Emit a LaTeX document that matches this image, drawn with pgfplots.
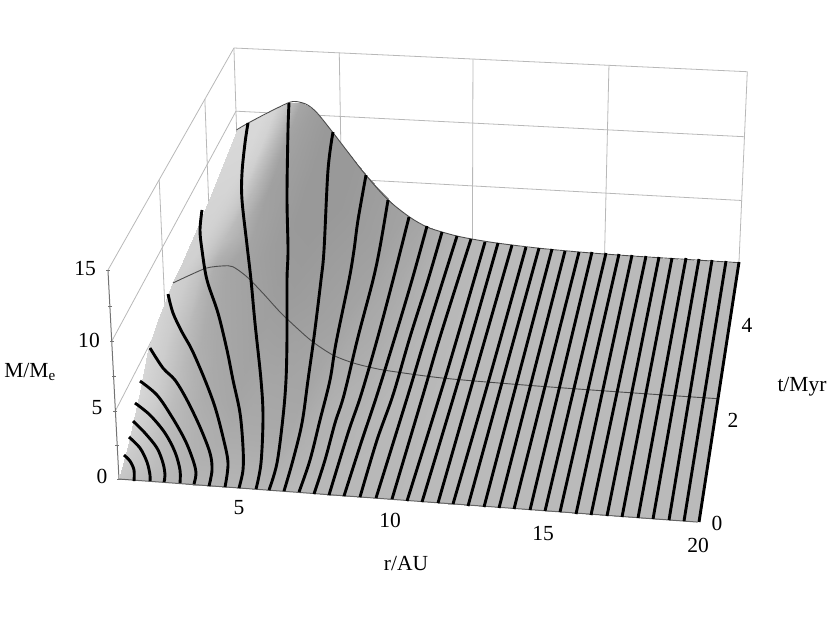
\documentclass[border=0pt]{standalone}
\usepackage{fontspec}
\setmainfont{Liberation Serif}
\usepackage{pgfplots}
\usepackage{pgfplotstable}
\pgfplotsset{compat=1.18}
% camera: (r,t,M) -> image plane
\newcommand\Wd{(1-0.036*(\thisrow{r}-1)/19+0.1614*\thisrow{t}/5.4-0.032*\thisrow{M}/15)}
\pgfplotsset{table/proj/.style={x expr={(119+552.9*(\thisrow{r}-1)/19+159.7*\thisrow{t}/5.4-14.5*\thisrow{M}/15)/\Wd},
 y expr={(479+24.2*(\thisrow{r}-1)/19-207.2*\thisrow{t}/5.4-217.6*\thisrow{M}/15)/\Wd}, z expr=0, row sep=\\},
 wall/.style={line width=0.8pt,color=black!28,no marks},
 track/.style={line width=2.9pt,black,no marks},
 tracks/.style={line width=2.9pt,black,no marks,smooth,tension=0.55}}
\pgfplotstableread[row sep=\\]{
r t M g\\
1 5.4 8.5 .85\\ 1 4.5 7.6 .84\\ 1 3.68 6.9 .83\\ 1 2.8 6.4 .82\\ 1 2.36 6.2 .82\\ 1 1.7 5.6 .83\\ 1 1.28 4.84 .84\\ 1 .9 3.1 .84\\ 1 .46 1.33 .82\\ 1 .25 .65 .80\\ 1 0 0 .78\\
1.5 5.4 9.15 .85\\ 1.5 4.5 8.3 .84\\ 1.5 3.68 7.6 .83\\ 1.5 2.8 7 .82\\ 1.5 2.36 6.7 .80\\ 1.5 1.7 5.6 .80\\ 1.5 1.28 4.1 .80\\ 1.5 .9 2.4 .80\\ 1.5 .46 .9 .78\\ 1.5 .25 .4 .77\\ 1.5 0 0 .75\\
2 5.4 9.75 .85\\ 2 4.5 8.9 .84\\ 2 3.68 8.2 .82\\ 2 2.8 7.6 .79\\ 2 2.36 7.2 .76\\ 2 1.7 5 .74\\ 2 1.28 3.2 .74\\ 2 .9 1.7 .74\\ 2 .46 .55 .74\\ 2 .25 .25 .74\\ 2 0 0 .73\\
2.5 5.4 10.3 .83\\ 2.5 4.5 9.5 .82\\ 2.5 3.68 8.8 .79\\ 2.5 2.8 8.1 .74\\ 2.5 2.36 7.55 .68\\ 2.5 1.7 4 .68\\ 2.5 1.28 2.2 .70\\ 2.5 .9 1.1 .71\\ 2.5 .46 .35 .72\\ 2.5 .25 .15 .72\\ 2.5 0 0 .72\\
3 5.4 10.85 .76\\ 3 4.5 10.1 .74\\ 3 3.68 9.4 .72\\ 3 2.8 8.5 .70\\ 3 2.36 7.72 .65\\ 3 1.7 3.6 .66\\ 3 1.28 1.9 .67\\ 3 .9 .9 .69\\ 3 .46 .25 .70\\ 3 .25 .1 .71\\ 3 0 0 .72\\
3.5 5.4 10.95 .65\\ 3.5 4.5 10.2 .64\\ 3.5 3.68 9.4 .63\\ 3.5 2.8 8.2 .64\\ 3.5 2.36 7.25 .64\\ 3.5 1.7 3 .65\\ 3.5 1.28 1.3 .66\\ 3.5 .9 .6 .68\\ 3.5 .46 .18 .69\\ 3.5 .25 .08 .70\\ 3.5 0 0 .71\\
4 5.4 10.4 .62\\ 4 4.5 9.6 .62\\ 4 3.68 8.7 .62\\ 4 2.8 7.3 .62\\ 4 2.36 6.3 .63\\ 4 1.7 2.2 .64\\ 4 1.28 .85 .65\\ 4 .9 .4 .67\\ 4 .46 .13 .69\\ 4 .25 .06 .70\\ 4 0 0 .71\\
4.5 5.4 9.2 .60\\ 4.5 4.5 8.2 .60\\ 4.5 3.68 7.2 .60\\ 4.5 2.8 5.9 .61\\ 4.5 2.36 5.1 .62\\ 4.5 1.7 1.6 .65\\ 4.5 1.28 .6 .66\\ 4.5 .9 .3 .67\\ 4.5 .46 .1 .69\\ 4.5 .25 .05 .70\\ 4.5 0 0 .71\\
5 5.4 7.8 .60\\ 5 4.5 6.9 .60\\ 5 3.68 5.9 .60\\ 5 2.8 4.7 .61\\ 5 2.36 4.05 .62\\ 5 1.7 1.15 .65\\ 5 1.28 .45 .66\\ 5 .9 .22 .67\\ 5 .46 .08 .69\\ 5 .25 .04 .70\\ 5 0 0 .71\\
5.5 5.4 6.55 .60\\ 5.5 4.5 5.7 .60\\ 5.5 3.68 4.8 .61\\ 5.5 2.8 3.75 .62\\ 5.5 2.36 3.1 .63\\ 5.5 1.7 .8 .65\\ 5.5 1.28 .33 .66\\ 5.5 .9 .17 .67\\ 5.5 .46 .06 .69\\ 5.5 .25 .03 .70\\ 5.5 0 0 .71\\
6 5.4 5.3 .61\\ 6 4.5 4.6 .61\\ 6 3.68 3.8 .62\\ 6 2.8 2.85 .63\\ 6 2.36 2.25 .64\\ 6 1.7 .55 .65\\ 6 1.28 .25 .66\\ 6 .9 .14 .67\\ 6 .46 .05 .69\\ 6 .25 .025 .70\\ 6 0 0 .71\\
6.5 5.4 4.15 .62\\ 6.5 4.5 3.55 .62\\ 6.5 3.68 2.9 .63\\ 6.5 2.8 2.1 .64\\ 6.5 2.36 1.6 .65\\ 6.5 1.7 .4 .67\\ 6.5 1.28 .2 .68\\ 6.5 .9 .11 .69\\ 6.5 .46 .04 .70\\ 6.5 .25 .02 .71\\ 6.5 0 0 .72\\
7 5.4 3.1 .63\\ 7 4.5 2.65 .63\\ 7 3.68 2.1 .64\\ 7 2.8 1.5 .66\\ 7 2.36 1.15 .67\\ 7 1.7 .3 .69\\ 7 1.28 .16 .70\\ 7 .9 .09 .70\\ 7 .46 .035 .71\\ 7 .25 .02 .72\\ 7 0 0 .72\\
7.5 5.4 2.3 .64\\ 7.5 4.5 1.95 .65\\ 7.5 3.68 1.55 .66\\ 7.5 2.8 1.1 .67\\ 7.5 2.36 .85 .68\\ 7.5 1.7 .24 .70\\ 7.5 1.28 .13 .70\\ 7.5 .9 .07 .71\\ 7.5 .46 .03 .71\\ 7.5 .25 .015 .72\\ 7.5 0 0 .72\\
8 5.4 1.7 .65\\ 8 4.5 1.45 .66\\ 8 3.68 1.15 .67\\ 8 2.8 .85 .68\\ 8 2.36 .65 .69\\ 8 1.7 .2 .70\\ 8 1.28 .11 .71\\ 8 .9 .06 .71\\ 8 .46 .025 .72\\ 8 .25 .012 .72\\ 8 0 0 .72\\
9 5.4 1.05 .69\\ 9 4.5 .88 .70\\ 9 3.68 .7 .70\\ 9 2.8 .5 .71\\ 9 2.36 .4 .71\\ 9 1.7 .14 .72\\ 9 1.28 .08 .72\\ 9 .9 .05 .72\\ 9 .46 .02 .72\\ 9 .25 .01 .72\\ 9 0 0 .72\\
10 5.4 .69 .72\\ 10 4.5 .57 .72\\ 10 3.68 .45 .72\\ 10 2.8 .32 .72\\ 10 2.36 .25 .72\\ 10 1.7 .1 .72\\ 10 1.28 .06 .72\\ 10 .9 .04 .72\\ 10 .46 .015 .72\\ 10 .25 .008 .72\\ 10 0 0 .72\\
11 5.4 .47 .73\\ 11 4.5 .39 .73\\ 11 3.68 .31 .73\\ 11 2.8 .22 .73\\ 11 2.36 .17 .73\\ 11 1.7 .07 .73\\ 11 1.28 .045 .73\\ 11 .9 .03 .73\\ 11 .46 .012 .73\\ 11 .25 .006 .73\\ 11 0 0 .73\\
12 5.4 .33 .73\\ 12 4.5 .27 .73\\ 12 3.68 .21 .73\\ 12 2.8 .15 .73\\ 12 2.36 .12 .73\\ 12 1.7 .05 .73\\ 12 1.28 .03 .73\\ 12 .9 .02 .73\\ 12 .46 .01 .73\\ 12 .25 .005 .73\\ 12 0 0 .73\\
14 5.4 .15 .73\\ 14 4.5 .125 .73\\ 14 3.68 .1 .73\\ 14 2.8 .07 .73\\ 14 2.36 .06 .73\\ 14 1.7 .025 .73\\ 14 1.28 .015 .73\\ 14 .9 .01 .73\\ 14 .46 .005 .73\\ 14 .25 .003 .73\\ 14 0 0 .73\\
16 5.4 .07 .73\\ 16 4.5 .062 .73\\ 16 3.68 .055 .73\\ 16 2.8 .045 .73\\ 16 2.36 .04 .73\\ 16 1.7 .015 .73\\ 16 1.28 .01 .73\\ 16 .9 .007 .73\\ 16 .46 .003 .73\\ 16 .25 .002 .73\\ 16 0 0 .73\\
20 5.4 .03 .73\\ 20 4.5 .028 .73\\ 20 3.68 .025 .73\\ 20 2.8 .022 .73\\ 20 2.36 .02 .73\\ 20 1.7 .01 .73\\ 20 1.28 .006 .73\\ 20 .9 .004 .73\\ 20 .46 .002 .73\\ 20 .25 .001 .73\\ 20 0 0 .73\\
}\surfdata
\begin{document}
\begin{tikzpicture}
\begin{axis}[
 scale only axis, width=830pt, height=622pt,
 xmin=0, xmax=830, ymin=0, ymax=622, zmin=-1, zmax=1,
 y dir=reverse, view={0}{90}, hide axis, clip=false,
 colormap={g}{gray(0cm)=(0);gray(1cm)=(1)},
 point meta min=0, point meta max=1,
 z buffer=none,
]
\path (axis cs:0,0,0) rectangle (axis cs:830,622,0);
% left wall
\addplot3[wall] table[proj]{r t M\\1 0 15\\1 5.4 15\\};
\addplot3[wall] table[proj]{r t M\\1 0 10\\1 5.4 10\\};
\addplot3[wall] table[proj]{r t M\\1 0 5\\1 5.4 5\\};
\addplot3[wall] table[proj]{r t M\\1 2 15\\1 2 0\\};
\addplot3[wall] table[proj]{r t M\\1 4 15\\1 4 0\\};
\addplot3[wall] table[proj]{r t M\\1 5.4 15\\1 5.4 0\\};
% back wall
\addplot3[wall] table[proj]{r t M\\1 5.4 15\\20 5.4 15\\};
\addplot3[wall] table[proj]{r t M\\1 5.4 10\\20 5.4 10\\};
\addplot3[wall] table[proj]{r t M\\1 5.4 5\\20 5.4 5\\};
\addplot3[wall] table[proj]{r t M\\5 5.4 15\\5 5.4 0\\};
\addplot3[wall] table[proj]{r t M\\10 5.4 15\\10 5.4 0\\};
\addplot3[wall] table[proj]{r t M\\15 5.4 15\\15 5.4 0\\};
\addplot3[wall] table[proj]{r t M\\20 5.4 15\\20 5.4 0\\};
% axes
\addplot3[line width=1pt,black!55,no marks] table[proj]{r t M\\1 0 0\\1 0 15\\};
\addplot3[only marks,mark=-,mark size=2pt,black!55,mark options={line width=.7pt}] table[proj]{r t M\\1 0 0\\1 0 2.5\\1 0 5\\1 0 7.5\\1 0 10\\1 0 12.5\\1 0 15\\};
% surface
\addplot3[surf,shader=interp,mesh/rows=22,mesh/cols=11,point meta=\thisrow{g}] table[proj]{\surfdata};
% edges and constant-time curves
\addplot3[line width=1pt,black!60,no marks] table[proj]{r t M\\1 0 0\\20 0 0\\};
\addplot3[line width=.9pt,black!70,no marks,smooth] table[proj]{r t M\\
1 5.4 8.5\\1.45 5.4 9.09\\2.31 5.4 10.1\\3.05 5.4 10.9\\3.36 5.4 11\\3.74 5.4 10.8\\4.11 5.4 10.2\\4.7 5.4 8.7\\5.35 5.4 6.96\\5.94 5.4 5.4\\6.78 5.4 3.5\\7.6 5.4 2.2\\8.26 5.4 1.47\\8.84 5.4 1.13\\9.41 5.4 .87\\10 5.4 .69\\10.9 5.4 .49\\12.46 5.4 .27\\14.1 5.4 .14\\16 5.4 .07\\17.8 5.4 .05\\20 5.4 .03\\};
\addplot3[line width=.9pt,black!70,no marks,smooth] table[proj]{r t M\\
1 2.36 6.15\\1.63 2.36 6.84\\2.24 2.36 7.45\\2.82 2.36 7.68\\3.17 2.36 7.66\\3.66 2.36 6.96\\4.21 2.36 5.8\\4.8 2.36 4.45\\5.39 2.36 3.3\\5.95 2.36 2.31\\6.65 2.36 1.41\\7.36 2.36 .91\\8.07 2.36 .62\\8.67 2.36 .47\\10.5 2.36 .2\\13 2.36 .09\\16 2.36 .04\\20 2.36 .02\\};
% planet tracks, image-plane positions
\addplot3[tracks] table[z expr=0,row sep=\\]{x y\\134 481\\134 470\\130 461\\124 455\\};
\addplot3[tracks] table[z expr=0,row sep=\\]{x y\\150 481\\150 475\\147 462\\140 448\\129 437\\};
\addplot3[tracks] table[z expr=0,row sep=\\]{x y\\164 482\\165 475\\163 463\\157 448\\145 433\\133 421\\};
\addplot3[tracks] table[z expr=0,row sep=\\]{x y\\180 483\\180 470\\175 452\\165 433\\150 415\\135 403\\};
\addplot3[tracks] table[z expr=0,row sep=\\]{x y\\194 484\\196 473\\193 460\\185 440\\172 417\\157 395\\140 381\\};
\addplot3[tracks] table[z expr=0,row sep=\\]{x y\\209 486\\212 470\\210 453\\200 427\\187 400\\175 380\\163 368\\150 348\\};
\addplot3[tracks] table[z expr=0,row sep=\\]{x y\\225 487\\228 463\\223 437\\215 407\\205 380\\192 350\\182 332\\173 313\\168 294\\};
\addplot3[tracks] table[z expr=0,row sep=\\]{x y\\239 488\\243 470\\243 447\\240 413\\233 380\\227 350\\218 313\\207 280\\202 250\\200 230\\202 210\\};
\addplot3[tracks] table[z expr=0,row sep=\\]{x y\\256 489\\261 463\\263 417\\261 380\\255 323\\251 280\\247 245\\242 200\\242 173\\245 143\\248 123\\};
\addplot3[tracks] table[z expr=0,row sep=\\]{x y\\269 490\\277 463\\283 417\\286 380\\287 337\\287 280\\288 250\\287 197\\288 130\\289 103\\};
\addplot3[tracks] table[z expr=0,row sep=\\]{x y\\284 491\\293 460\\302 423\\308 380\\314 337\\321 280\\324 250\\328 170\\333 132\\};
\addplot3[tracks] table[z expr=0,row sep=\\]{x y\\299 492\\310 460\\320 420\\330 380\\336 343\\349 280\\354 250\\358 220\\366 175\\};
\addplot3[tracks] table[z expr=0,row sep=\\]{x y\\314 494\\325 460\\335 423\\344 395\\358 337\\373 280\\380 247\\388 200\\};
\addplot3[tracks] table[z expr=0,row sep=\\]{x y\\329 495\\348 433\\361 395\\377 340\\393 280\\409 217\\};
\addplot3[tracks] table[z expr=0,row sep=\\]{x y\\344 496\\361 443\\377 395\\395 337\\412 280\\427 226\\};
\addplot3[tracks] table[z expr=0,row sep=\\]{x y\\360 497\\377 440\\393 395\\410 337\\428 280\\442 232\\};
\addplot3[tracks] table[z expr=0,row sep=\\]{x y\\376 498\\408 395\\423 345\\440 290\\457 236\\};
\addplot3[tracks] table[z expr=0,row sep=\\]{x y\\392 499\\423 395\\440 337\\471 239\\};
\addplot3[tracks] table[z expr=0,row sep=\\]{x y\\407 501\\447 372\\485 242\\};
\addplot3[tracks] table[z expr=0,row sep=\\]{x y\\422 502\\461 372\\498 243\\};
\addplot3[tracks] table[z expr=0,row sep=\\]{x y\\438 503\\475 374\\512 245\\};
\addplot3[tracks] table[z expr=0,row sep=\\]{x y\\453 504\\490 376\\526 247\\};
\addplot3[track] table[z expr=0,row sep=\\]{x y\\468 506\\539 248\\};
\addplot3[track] table[z expr=0,row sep=\\]{x y\\484 507\\552 249\\};
\addplot3[track] table[z expr=0,row sep=\\]{x y\\499 508\\565 251\\};
\addplot3[track] table[z expr=0,row sep=\\]{x y\\514 509\\579 252\\};
\addplot3[track] table[z expr=0,row sep=\\]{x y\\530 510\\592 252\\};
\addplot3[track] table[z expr=0,row sep=\\]{x y\\545 511\\606 253\\};
\addplot3[track] table[z expr=0,row sep=\\]{x y\\560 512\\619 254\\};
\addplot3[track] table[z expr=0,row sep=\\]{x y\\576 514\\632 255\\};
\addplot3[track] table[z expr=0,row sep=\\]{x y\\591 515\\646 256\\};
\addplot3[track] table[z expr=0,row sep=\\]{x y\\607 516\\659 257\\};
\addplot3[track] table[z expr=0,row sep=\\]{x y\\622 517\\672 258\\};
\addplot3[track] table[z expr=0,row sep=\\]{x y\\638 518\\686 258\\};
\addplot3[track] table[z expr=0,row sep=\\]{x y\\653 519\\699 259\\};
\addplot3[track] table[z expr=0,row sep=\\]{x y\\669 520\\712 260\\};
\addplot3[track] table[z expr=0,row sep=\\]{x y\\684 521\\726 261\\};
\addplot3[track] table[z expr=0,row sep=\\]{x y\\699 522\\739 262\\};
% labels
\def\lab{\fontsize{21.5}{24}\selectfont}
\node[font=\lab] at (axis cs:85,268,0) {15};
\node[font=\lab] at (axis cs:89,340,0) {10};
\node[font=\lab] at (axis cs:97,408,0) {5};
\node[font=\lab] at (axis cs:102,476,0) {0};
\node[font=\lab] at (axis cs:30,372,0) {M/M\textsubscript{e}};
\node[font=\lab] at (axis cs:239,508,0) {5};
\node[font=\lab] at (axis cs:390,520,0) {10};
\node[font=\lab] at (axis cs:543,533,0) {15};
\node[font=\lab] at (axis cs:698,545,0) {20};
\node[font=\lab] at (axis cs:406,563,0) {r/AU};
\node[font=\lab] at (axis cs:717,523,0) {0};
\node[font=\lab] at (axis cs:733,420,0) {2};
\node[font=\lab] at (axis cs:747,325,0) {4};
\node[font=\lab] at (axis cs:802,387,0) {t/Myr};
\end{axis}
\end{tikzpicture}
\end{document}
